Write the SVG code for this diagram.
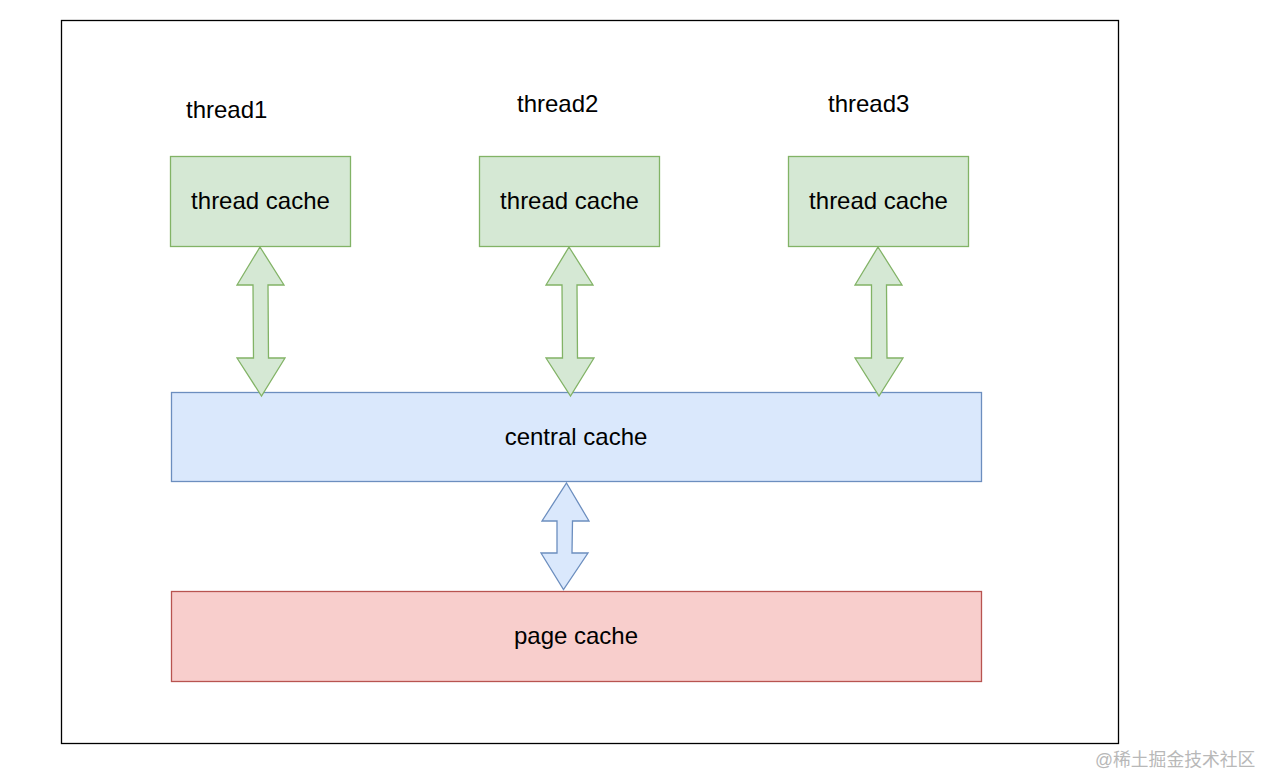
<svg xmlns="http://www.w3.org/2000/svg" width="1261" height="776" viewBox="0 0 1261 776">
<style>
.t{font-family:"Liberation Sans",Arial,sans-serif;font-size:24px;fill:#000}
.g{fill:#d5e8d4;stroke:#82b366;stroke-width:1.3}
.b{fill:#dae8fc;stroke:#6c8ebf;stroke-width:1.3}
.r{fill:#f8cecc;stroke:#b85450;stroke-width:1.3}
.wm{font-family:"Liberation Sans","Noto Sans CJK SC",sans-serif;font-size:17.8px;fill:#b8b8b8}
</style>
<rect width="1261" height="776" fill="#fff"/>
<rect id="frame" x="61.5" y="20.5" width="1057" height="723" fill="none" stroke="#000" stroke-width="1.3"/>
<g id="labels">
<text class="t" x="186" y="118">thread1</text>
<text class="t" x="517" y="112">thread2</text>
<text class="t" x="828" y="112">thread3</text>
</g>
<g id="tc1"><rect class="g" x="170.5" y="156.5" width="180" height="90"/><text class="t" x="260.5" y="209" text-anchor="middle">thread cache</text></g>
<g id="tc2"><rect class="g" x="479.5" y="156.5" width="180" height="90"/><text class="t" x="569.5" y="209" text-anchor="middle">thread cache</text></g>
<g id="tc3"><rect class="g" x="788.5" y="156.5" width="180" height="90"/><text class="t" x="878.5" y="209" text-anchor="middle">thread cache</text></g>
<g id="central"><rect class="b" x="171.5" y="392.5" width="810" height="89"/><text class="t" x="576" y="445" text-anchor="middle">central cache</text></g>
<g id="page"><rect class="r" x="171.5" y="591.5" width="810" height="90"/><text class="t" x="576" y="644" text-anchor="middle">page cache</text></g>
<g id="connectors">
<path class="g" d="M260,247 L284,285 L268,285 L268.5,358 L285,358 L261.5,396 L237,358 L253.5,358 L253,285 L237,285 Z"/>
<path class="g" d="M569,247 L593,285 L577,285 L577.5,358 L594,358 L570.5,396 L546,358 L562.5,358 L562,285 L546,285 Z"/>
<path class="g" d="M878,247 L902,285 L886.5,285 L887,358 L903,358 L879,396 L855,358 L871.5,358 L871.5,285 L855,285 Z"/>
<path class="b" d="M566.5,483 L589,521 L572.5,521 L572,553 L588,553 L563.5,589.5 L541,553 L557,553 L557,521 L542,521 Z"/>
</g>
<text class="wm" x="1095" y="766">@稀土掘金技术社区</text>
</svg>
